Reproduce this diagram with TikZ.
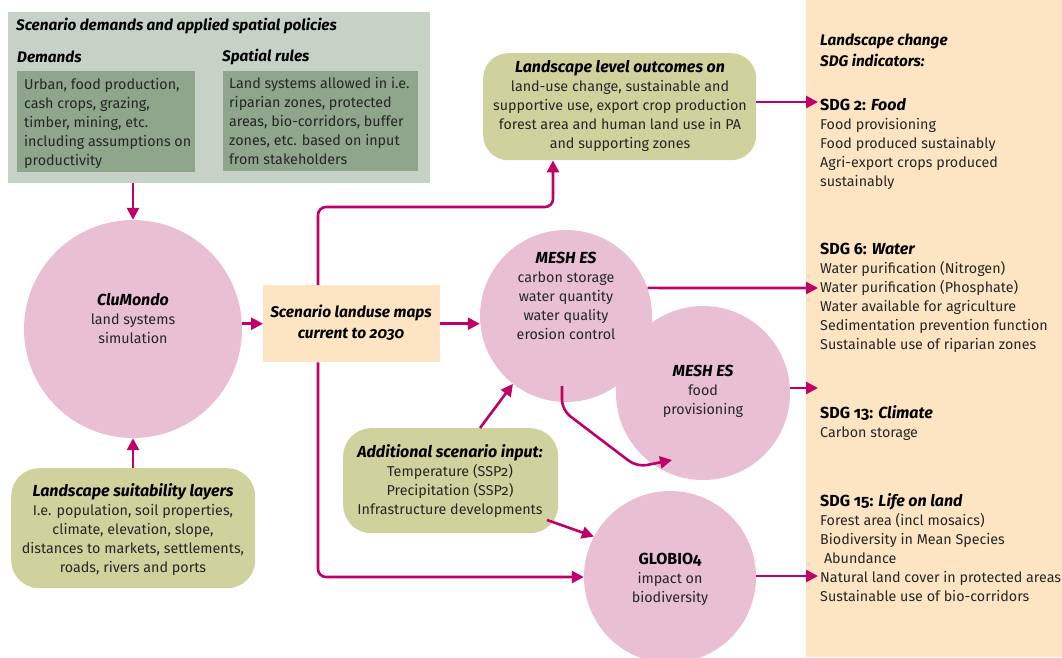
\documentclass[tikz,border=0pt]{standalone}
\usepackage{fontspec}
\setmainfont{Fira Sans}[Numbers=OldStyle]
\usetikzlibrary{arrows.meta,calc}
\definecolor{mag}{HTML}{C0006A}
\definecolor{pinkc}{HTML}{E8BFD3}
\definecolor{olivec}{HTML}{D0D29E}
\definecolor{peachc}{HTML}{FDE5C3}
\definecolor{greyg}{HTML}{C6D2C5}
\definecolor{darkg}{HTML}{8FA68C}
\definecolor{txtc}{HTML}{262626}
\newcommand\hb[1]{{\fontsize{16}{19}\selectfont\bfseries\itshape\color{black} #1}}
\newcommand\hbu[1]{{\fontsize{16}{19}\selectfont\bfseries\color{black} #1}}
\begin{document}
\begin{tikzpicture}[x=1pt,y=-1pt,
  txt/.style={font=\fontsize{14.3}{19}\selectfont, inner sep=0pt, text=txtc},
  hd/.style={font=\fontsize{15.3}{19}\selectfont\bfseries\itshape, inner sep=0pt, text=black},
  arr/.style={draw=mag, line width=2.6pt, -{Triangle[length=12pt,width=12pt]}},
  circ/.style={circle, fill=pinkc, inner sep=0pt},
  obox/.style={fill=olivec, anchor=north west, inner sep=0pt},
  pbox/.style={fill=peachc, anchor=north west, inner sep=0pt},
  gbox/.style={fill=darkg, anchor=north west, inner sep=0pt}]
\useasboundingbox (0,0) rectangle (1062,657);
\fill[white] (0,0) rectangle (1062,657);

% right panel
\node[pbox, minimum width=256, minimum height=657] (panel) at (806,0) {};

% top box
\node[fill=greyg, anchor=north west, inner sep=0pt, minimum width=422, minimum height=171] (top) at (8,12) {};
\node[gbox, minimum width=178, minimum height=101] (dem) at (17,71) {};
\node[gbox, minimum width=195, minimum height=100] (spr) at (223,71) {};
\node[hd, anchor=west] (toptitle) at (16,26) {Scenario demands and applied spatial policies};
\node[hd, anchor=west] (demt) at (17,57) {Demands};
\node[hd, anchor=west] (sprt) at (222,57) {Spatial rules};
\node[txt, align=left, anchor=west] (demx) at (24,123) {Urban, food production,\\cash crops, grazing,\\timber, mining, etc.\\including assumptions on\\productivity};
\node[txt, align=left, anchor=west] (sprx) at (229,121) {Land systems allowed in i.e.\\riparian zones, protected\\areas, bio-corridors, buffer\\zones, etc. based on input\\from stakeholders};

% CluMondo
\node[circ, minimum size=218] (clu) at (133,329) {};
\node[txt, align=center] (clux) at (133,319) {\hb{CluMondo}\\land systems\\simulation};

% suitability
\node[obox, rounded corners=28, minimum width=244, minimum height=120] (suit) at (11,468) {};
\node[txt, align=center] (suitx) at (133,530) {\hb{Landscape suitability layers}\\I.e. population, soil properties,\\climate, elevation, slope,\\distances to markets, settlements,\\roads, rivers and ports};

% scenario maps
\node[pbox, minimum width=177, minimum height=77] (scen) at (263,285) {};
\node[hd, align=center, font=\fontsize{15.5}{21}\selectfont\bfseries\itshape] (scenx) at (351,323) {Scenario landuse maps\\current to 2030};

% outcomes
\node[obox, rounded corners=25, minimum width=273, minimum height=107] (outc) at (483,53) {};
\node[txt, align=center] (outcx) at (620,106) {\hb{Landscape level outcomes on}\\land-use change, sustainable and\\supportive use, export crop production\\forest area and human land use in PA\\and supporting zones};

% MESH / GLOBIO circles
\node[circ, minimum size=172] (mesh1) at (566,316) {};
\node[txt, align=center] (mesh1x) at (566,296) {\hb{MESH ES}\\carbon storage\\water quantity\\water quality\\erosion control};
\node[circ, minimum size=174] (mesh2) at (703,393) {};
\node[txt, align=center] (mesh2x) at (703,391) {\hb{MESH ES}\\food\\provisioning};
\node[circ, minimum size=172] (glob) at (670,577) {};
\node[txt, align=center] (globx) at (670,579) {\hbu{GLOBIO4}\\impact on\\biodiversity};

% additional input
\node[obox, rounded corners=28, minimum width=215, minimum height=105] (add) at (343,428) {};
\node[txt, align=center] (addx) at (450,481) {\hb{Additional scenario input:}\\Temperature (SSP2)\\Precipitation (SSP2)\\Infrastructure developments};

% right panel texts
\node[hd, align=left, anchor=west, font=\fontsize{15.3}{21}\selectfont\bfseries\itshape] (lc) at (820,50) {Landscape change\\SDG indicators:};
\node[txt, align=left, anchor=west] (sdg2) at (820,144) {\hbu{SDG 2: \textit{Food}}\\Food provisioning\\Food produced sustainably\\Agri-export crops produced\\sustainably};
\node[txt, align=left, anchor=west] (sdg6) at (820,298) {\hbu{SDG 6: \textit{Water}}\\Water purification (Nitrogen)\\Water purification (Phosphate)\\Water available for agriculture\\Sedimentation prevention function\\Sustainable use of riparian zones};
\node[txt, align=left, anchor=west] (sdg13) at (820,423) {\hbu{SDG 13: \textit{Climate}}\\Carbon storage};
\node[txt, align=left, anchor=west] (sdg15) at (820,548) {\hbu{SDG 15: \textit{Life on land}}\\Forest area (incl mosaics)\\Biodiversity in Mean Species\\\ Abundance\\Natural land cover in protected areas\\Sustainable use of bio-corridors};

% coordinates
\coordinate (c1) at (318,207);
\coordinate (c2) at (553,207);
\coordinate (s2) at (818,102);
\coordinate (s6) at (818,288);
\coordinate (s13) at (818,388);
\coordinate (s15) at (818,576);
\coordinate (a1) at (480,428);
\coordinate (a2) at (547,520);
\coordinate (m1) at (562,386);
\coordinate (m2) at (562,410);
\coordinate (m3) at (637,467);
\coordinate (m4) at (672,460);

% connectors
\draw[arr] (top.south -| clu) -- (clu.north);
\draw[arr] (suit.north -| clu) -- (clu.south);
\draw[arr] (scen.west -| clu.east) -- (scen.west);
\draw[arr] (scen.east) -- (scen.east -| mesh1.west);
\draw[arr, rounded corners=8] (scen.north -| c1) |- (c2) -- (c2 |- outc.south);
\draw[arr, rounded corners=8] (scen.south -| c1) |- (glob.west);
\draw[arr] (outc.east |- s2) -- (s2);
\draw[arr] (mesh1.19) -- (s6);
\draw[arr] (mesh2.east |- s13) -- (s13);
\draw[arr] (glob.east |- s15) -- (s15);
\draw[arr] (a1) -- (mesh1.232);
\draw[arr] (a2) -- (glob.152);
\draw[arr, rounded corners=10] (m1) -- (m2) -- (m3) -- (m4);
\end{tikzpicture}
\end{document}
